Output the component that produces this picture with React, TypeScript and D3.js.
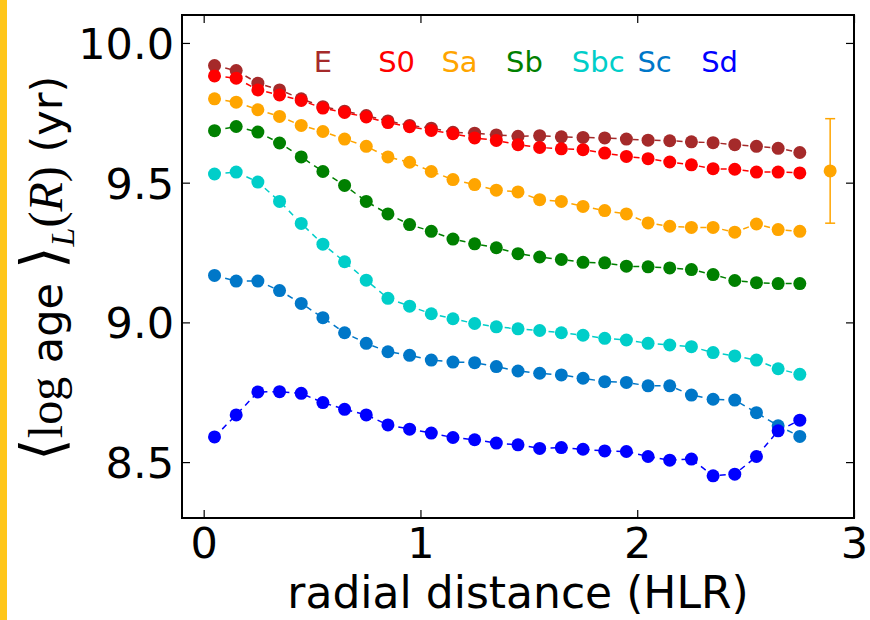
import React, { useEffect, useRef } from 'react';
import * as d3 from 'd3';

const radii = d3.range(28).map(i => 0.05 + 0.1 * i);

const types = ['E', 'S0', 'Sa', 'Sb', 'Sbc', 'Sc', 'Sd'];
const colors = ['#a52a2a', '#ff0000', '#ffa500', '#008000', '#00cec9', '#0077c8', '#0000ff'];
const labelX = [0.55, 0.89, 1.18, 1.48, 1.82, 2.08, 2.38];

const ageE = [9.919, 9.901, 9.856, 9.832, 9.80, 9.772, 9.756, 9.74, 9.721, 9.705, 9.695, 9.68, 9.677, 9.671,
  9.666, 9.668, 9.664, 9.662, 9.66, 9.656, 9.652, 9.65, 9.646, 9.643, 9.636, 9.63, 9.623, 9.608];
const ageS0 = [9.882, 9.874, 9.832, 9.814, 9.794, 9.767, 9.751, 9.735, 9.715, 9.70, 9.687, 9.675, 9.66, 9.651,
  9.636, 9.626, 9.621, 9.618, 9.606, 9.594, 9.586, 9.574, 9.564, 9.55, 9.548, 9.538, 9.538, 9.535];
const ageSa = [9.80, 9.788, 9.761, 9.737, 9.705, 9.683, 9.656, 9.63, 9.592, 9.573, 9.54, 9.511, 9.493, 9.473,
  9.467, 9.439, 9.433, 9.415, 9.40, 9.388, 9.356, 9.344, 9.34, 9.34, 9.323, 9.352, 9.332, 9.326];
const ageSb = [9.686, 9.701, 9.681, 9.642, 9.592, 9.54, 9.49, 9.433, 9.388, 9.35, 9.326, 9.298, 9.281, 9.267,
  9.246, 9.234, 9.225, 9.215, 9.213, 9.201, 9.199, 9.195, 9.189, 9.171, 9.15, 9.142, 9.139, 9.139];
const ageSbc = [9.531, 9.538, 9.502, 9.433, 9.354, 9.28, 9.217, 9.151, 9.086, 9.058, 9.031, 9.013, 8.996, 8.984,
  8.977, 8.971, 8.963, 8.954, 8.943, 8.937, 8.925, 8.919, 8.913, 8.892, 8.88, 8.865, 8.834, 8.814];
const ageSc = [9.168, 9.148, 9.148, 9.114, 9.068, 9.017, 8.963, 8.925, 8.895, 8.882, 8.865, 8.858, 8.856, 8.842,
  8.826, 8.818, 8.812, 8.80, 8.788, 8.785, 8.773, 8.773, 8.74, 8.725, 8.722, 8.677, 8.63, 8.592];
const ageSd = [8.59, 8.669, 8.751, 8.752, 8.746, 8.713, 8.689, 8.669, 8.633, 8.618, 8.604, 8.588, 8.58, 8.568,
  8.562, 8.549, 8.552, 8.546, 8.54, 8.538, 8.52, 8.507, 8.511, 8.451, 8.457, 8.52, 8.612, 8.65];

const series = [ageE, ageS0, ageSa, ageSb, ageSbc, ageSc, ageSd];

// typical error bar (Sa colour)
const errX = 2.89;
const errMean = 9.542;
const errSigma = 0.187;

const xTicks = [0, 1, 2, 3];
const yTicks = [8.5, 9.0, 9.5, 10.0];

const App = () => {
  const ref = useRef<SVGSVGElement>(null);

  useEffect(() => {
    document.body.style.margin = '0';
    const svg = d3.select(ref.current);
    svg.selectAll('*').remove();

    const margin = { top: 15, right: 16, bottom: 102, left: 182 };
    const W = 870, H = 620;
    const width = W - margin.left - margin.right;
    const height = H - margin.top - margin.bottom;

    svg.append('rect').attr('width', W).attr('height', H).attr('fill', '#fff');
    // yellow strip at left edge
    svg.append('rect').attr('x', 0).attr('y', 0).attr('width', 7).attr('height', H).attr('fill', '#ffc61a');

    const g = svg.append('g').attr('transform', `translate(${margin.left},${margin.top})`);

    const x = d3.scaleLinear().domain([-0.1, 3]).range([0, width]);
    const y = d3.scaleLinear().domain([8.3, 10.1]).range([height, 0]);

    // series
    series.forEach((vals, k) => {
      const pts = radii.map((r, i) => [r, vals[i]] as [number, number]);
      const line = d3.line<[number, number]>().x(d => x(d[0])).y(d => y(d[1]));
      g.append('path')
        .attr('d', line(pts))
        .attr('fill', 'none')
        .attr('stroke', colors[k])
        .attr('stroke-width', 1.5)
        .attr('stroke-dasharray', '6,5');
      g.selectAll(`.dot${k}`)
        .data(pts)
        .enter().append('circle')
        .attr('cx', d => x(d[0]))
        .attr('cy', d => y(d[1]))
        .attr('r', 6.5)
        .attr('fill', colors[k]);
    });

    // error bar
    const ex = x(errX);
    g.append('line').attr('x1', ex).attr('x2', ex)
      .attr('y1', y(errMean - errSigma)).attr('y2', y(errMean + errSigma))
      .attr('stroke', colors[2]).attr('stroke-width', 1.5);
    [errMean - errSigma, errMean + errSigma].forEach(v => {
      g.append('line').attr('x1', ex - 5).attr('x2', ex + 5)
        .attr('y1', y(v)).attr('y2', y(v))
        .attr('stroke', colors[2]).attr('stroke-width', 1.5);
    });
    g.append('circle').attr('cx', ex).attr('cy', y(errMean)).attr('r', 6.5).attr('fill', colors[2]);

    // labels
    types.forEach((t, k) => {
      g.append('text')
        .attr('x', x(labelX[k]))
        .attr('y', 57)
        .attr('text-anchor', 'middle')
        .attr('font-family', 'DejaVu Sans')
        .attr('font-size', 29)
        .attr('fill', colors[k])
        .text(t);
    });

    // axes with inward ticks on all sides
    const tickLen = 8;
    const fmtY = d3.format('.1f');
    const axB = g.append('g').attr('transform', `translate(0,${height})`)
      .call(d3.axisBottom(x).tickValues(xTicks).tickSize(-tickLen).tickPadding(9).tickFormat(d3.format('d')));
    const axT = g.append('g')
      .call(d3.axisTop(x).tickValues(xTicks).tickSize(-tickLen).tickFormat(() => ''));
    const axL = g.append('g')
      .call(d3.axisLeft(y).tickValues(yTicks).tickSize(-tickLen).tickPadding(8).tickFormat(d => fmtY(d as number)));
    const axR = g.append('g').attr('transform', `translate(${width},0)`)
      .call(d3.axisRight(y).tickValues(yTicks).tickSize(-tickLen).tickFormat(() => ''));
    [axB, axT, axL, axR].forEach(a => {
      a.select('.domain').remove();
      a.selectAll('line').attr('stroke', '#000').attr('stroke-width', 1.2);
      a.selectAll('text').attr('font-family', 'DejaVu Sans').attr('font-size', 43).attr('fill', '#000');
    });
    axB.selectAll('text').attr('dy', '0.71em');
    axL.selectAll('text').attr('dy', '0.36em');

    g.append('rect').attr('width', width).attr('height', height)
      .attr('fill', 'none').attr('stroke', '#000').attr('stroke-width', 2);

    // x label
    svg.append('text')
      .attr('x', margin.left + width / 2)
      .attr('y', 608)
      .attr('text-anchor', 'middle')
      .attr('font-family', 'DejaVu Sans')
      .attr('font-size', 44)
      .text('radial distance (HLR)');

    // y label
    const yl = svg.append('text')
      .attr('transform', `translate(62,${margin.top + height / 2 + 2}) rotate(-90)`)
      .attr('text-anchor', 'middle')
      .attr('font-size', 43)
      .attr('font-family', 'DejaVu Sans');
    const serif = 'Liberation Serif';
    yl.append('tspan').attr('font-family', serif).attr('font-size', 58).text('⟨');
    yl.append('tspan').attr('font-family', serif).attr('font-size', 48).text('log');
    yl.append('tspan').text(' age ');
    yl.append('tspan').attr('font-family', serif).attr('font-size', 58).text('⟩');
    yl.append('tspan').attr('font-family', serif).attr('font-style', 'italic').attr('font-size', 34).attr('dy', 12).text('L');
    yl.append('tspan').attr('font-family', serif).attr('font-size', 48).attr('dy', -12).text('(');
    yl.append('tspan').attr('font-family', serif).attr('font-style', 'italic').attr('font-size', 48).text('R');
    yl.append('tspan').attr('font-family', serif).attr('font-size', 48).text(')');
    yl.append('tspan').text(' (yr)');
  }, []);

  return <svg ref={ref} width={870} height={620} style={{ display: 'block' }} />;
};

export default App;
